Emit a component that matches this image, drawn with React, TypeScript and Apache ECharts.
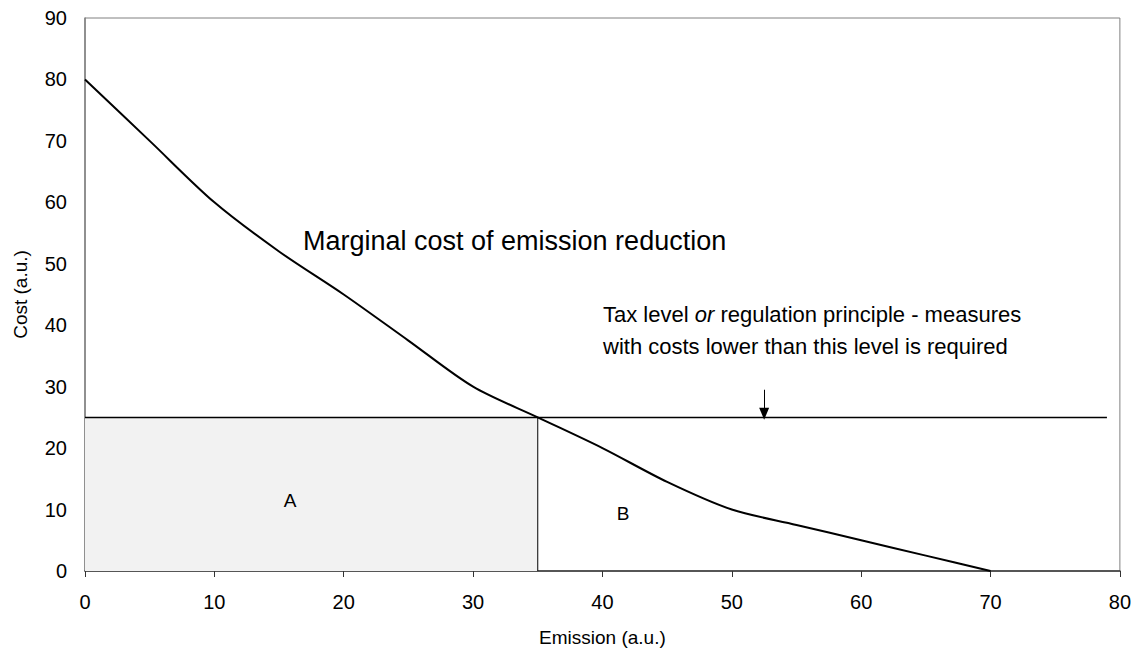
import React, { useEffect, useRef } from "react";
import * as echarts from "echarts";

const curveX = [0, 5, 10, 15, 20, 25, 30, 35, 40, 45, 50, 55, 60, 65, 70];
const curveY = [80, 70, 60, 52, 45, 37.5, 30, 25, 20, 14.5, 10, 7.5, 5, 2.5, 0];
const taxLevel = 25;
const taxLineEnd = 79;
const quantity = 35;
const arrowX = 52.5;
const arrowTop = 29.5;
const xTicks = [0, 80, 10];
const yTicks = [0, 90, 10];

const FONT = "Liberation Sans, Arial, Helvetica, sans-serif";

export default function App() {
  const ref = useRef<HTMLDivElement>(null);
  useEffect(() => {
    document.body.style.margin = "0";
    document.body.style.overflow = "hidden";
    if (!ref.current) return;
    const chart = echarts.init(ref.current, null, { renderer: "svg" });
    chart.setOption({
      animation: false,
      textStyle: { fontFamily: FONT, color: "#000" },
      grid: {
        left: 85,
        right: 12,
        top: 18,
        bottom: 79,
        show: true,
        borderColor: "#808080",
        borderWidth: 1,
        backgroundColor: "transparent",
      },
      xAxis: {
        type: "value",
        min: xTicks[0],
        max: xTicks[1],
        interval: xTicks[2],
        name: "Emission (a.u.)",
        nameLocation: "middle",
        nameGap: 57,
        nameTextStyle: { fontSize: 19, fontFamily: FONT, color: "#000" },
        axisLine: { show: true, lineStyle: { color: "#333", width: 1.5 } },
        axisTick: { show: true, length: 6, lineStyle: { color: "#333" } },
        axisLabel: { fontSize: 20, margin: 21, color: "#000", fontFamily: FONT },
        splitLine: { show: false },
      },
      yAxis: {
        type: "value",
        min: yTicks[0],
        max: yTicks[1],
        interval: yTicks[2],
        name: "Cost (a.u.)",
        nameLocation: "middle",
        nameGap: 55,
        nameTextStyle: { fontSize: 19, fontFamily: FONT, color: "#000" },
        axisLine: { show: true, lineStyle: { color: "#808080", width: 1.5 } },
        axisTick: { show: false },
        axisLabel: { fontSize: 20, margin: 18, color: "#000", fontFamily: FONT },
        splitLine: { show: false },
      },
      series: [
        {
          type: "line",
          name: "area",
          data: [],
          markArea: {
            silent: true,
            itemStyle: { color: "#f2f2f2" },
            data: [[{ coord: [0, 0] }, { coord: [quantity, taxLevel] }]],
          },
        },
        {
          type: "line",
          name: "tax",
          data: [
            [0, taxLevel],
            [taxLineEnd, taxLevel],
          ],
          symbol: "none",
          lineStyle: { color: "#000", width: 1.5 },
        },
        {
          type: "line",
          name: "quantity",
          data: [
            [quantity, 0],
            [quantity, taxLevel],
          ],
          symbol: "none",
          lineStyle: { color: "#000", width: 1 },
        },
        {
          type: "line",
          name: "curve",
          data: curveX.map((x, i) => [x, curveY[i]]),
          smooth: 0.3,
          symbol: "none",
          lineStyle: { color: "#000", width: 2 },
          markLine: {
            silent: true,
            symbol: ["none", "triangle"],
            symbolSize: [10, 12],
            lineStyle: { color: "#000", width: 1, type: "solid" },
            label: { show: false },
            data: [[{ coord: [arrowX, arrowTop] }, { coord: [arrowX, taxLevel + 0.6] }]],
          },
        },
      ],
      graphic: [
        {
          type: "text",
          z: 100,
          x: 303,
          y: 241,
          style: {
            text: "Marginal cost of emission reduction",
            fontSize: 27,
            fontFamily: FONT,
            fill: "#000",
            verticalAlign: "middle",
          },
        },
        {
          type: "text",
          z: 100,
          x: 603,
          y: 298,
          style: {
            text: "Tax level {i|or} regulation principle - measures\nwith costs lower than this level is required",
            fontSize: 22,
            lineHeight: 32,
            fontFamily: FONT,
            fill: "#000",
            rich: {
              i: { fontStyle: "italic", fontSize: 22, fontFamily: FONT, lineHeight: 32 },
            },
          },
        },
        {
          type: "text",
          z: 100,
          x: 290,
          y: 500,
          style: { text: "A", fontSize: 19, fontFamily: FONT, fill: "#000", align: "center", verticalAlign: "middle" },
        },
        {
          type: "text",
          z: 100,
          x: 623,
          y: 513,
          style: { text: "B", fontSize: 19, fontFamily: FONT, fill: "#000", align: "center", verticalAlign: "middle" },
        },
      ],
    });
    return () => chart.dispose();
  }, []);
  return <div ref={ref} style={{ width: 1134, height: 652 }} />;
}
